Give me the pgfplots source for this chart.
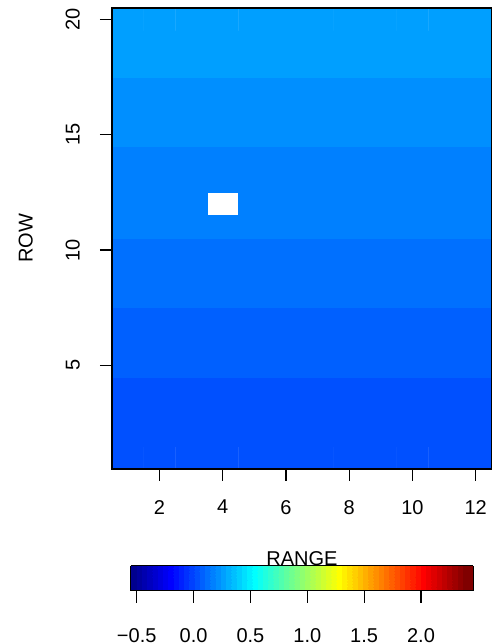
\documentclass[border=0pt]{standalone}
\usepackage{fontspec}
\setmainfont{Liberation Sans}
\usepackage{pgfplots}
\pgfplotsset{compat=1.18}
\pgfplotsset{colormap={tim}{
rgb255=(0,0,143) rgb255=(0,0,159) rgb255=(0,0,175) rgb255=(0,0,191) rgb255=(0,0,207) rgb255=(0,0,223) rgb255=(0,0,239) rgb255=(0,0,255)
rgb255=(0,16,255) rgb255=(0,32,255) rgb255=(0,48,255) rgb255=(0,64,255) rgb255=(0,80,255) rgb255=(0,96,255) rgb255=(0,112,255) rgb255=(0,128,255)
rgb255=(0,143,255) rgb255=(0,159,255) rgb255=(0,175,255) rgb255=(0,191,255) rgb255=(0,207,255) rgb255=(0,223,255) rgb255=(0,239,255) rgb255=(0,255,255)
rgb255=(16,255,239) rgb255=(32,255,223) rgb255=(48,255,207) rgb255=(64,255,191) rgb255=(80,255,175) rgb255=(96,255,159) rgb255=(112,255,143) rgb255=(128,255,128)
rgb255=(143,255,112) rgb255=(159,255,96) rgb255=(175,255,80) rgb255=(191,255,64) rgb255=(207,255,48) rgb255=(223,255,32) rgb255=(239,255,16) rgb255=(255,255,0)
rgb255=(255,239,0) rgb255=(255,223,0) rgb255=(255,207,0) rgb255=(255,191,0) rgb255=(255,175,0) rgb255=(255,159,0) rgb255=(255,143,0) rgb255=(255,128,0)
rgb255=(255,112,0) rgb255=(255,96,0) rgb255=(255,80,0) rgb255=(255,64,0) rgb255=(255,48,0) rgb255=(255,32,0) rgb255=(255,16,0) rgb255=(255,0,0)
rgb255=(239,0,0) rgb255=(223,0,0) rgb255=(207,0,0) rgb255=(191,0,0) rgb255=(175,0,0) rgb255=(159,0,0) rgb255=(143,0,0) rgb255=(128,0,0) rgb255=(128,0,0)
}}
\newcommand{\bigf}{\fontsize{20}{24}\selectfont}
\begin{document}
\begin{tikzpicture}
\useasboundingbox (0,0) rectangle (491pt,644pt);
\begin{axis}[
  at={(112pt,175pt)}, anchor=south west,
  scale only axis, width=379.5pt, height=461pt,
  xmin=0.5, xmax=12.5, ymin=0.5, ymax=20.5,
  colormap name=tim, colormap access=piecewise constant,
  point meta min=-0.553, point meta max=2.460,
  xtick={2,4,6,8,10,12}, ytick={5,10,15,20},
  tick align=outside, major tick length=12pt, tick pos=left,
  axis line style={line width=1.2pt},
  every tick/.style={black, line width=1.2pt},
  /pgf/number format/assume math mode=true,
  ticklabel style={font=\bigf},
  xticklabel style={anchor=north, inner sep=0pt, yshift=-19pt},
  yticklabel style={xshift=-20pt, rotate=90, anchor=south, inner sep=0pt},
  ylabel={ROW},
  ylabel style={at={(axis description cs:-0.208,0.5)}, anchor=south, inner sep=0pt, font=\bigf},
  unbounded coords=jump,
  axis on top,
  colorbar horizontal,
  colorbar style={
    at={(parent axis.south west)}, anchor=north west,
    xshift=18.7pt, yshift=-88pt,
    scale only axis, width=342.6pt, height=25pt,
    xtick={-0.5,0,0.5,1,1.5,2},
    xticklabels={−0.5,0.0,0.5,1.0,1.5,2.0},
    xtick pos=left, ytick=\empty,
    tick align=outside, major tick length=12pt,
    axis line style={line width=1.2pt},
    every tick/.style={black, line width=1.2pt},
    xticklabel style={font=\bigf, anchor=north, inner sep=0pt, yshift=-26pt},
    xlabel={RANGE},
    xlabel style={at={(axis description cs:0.5,1)}, anchor=base, inner sep=0pt, font=\bigf},
  },
]
\addplot[matrix plot*, shader=faceted, faceted color=mapped color, line width=0.4pt, mesh/cols=12, mesh/rows=20, point meta=explicit] coordinates {
(1,1)[0.036] (2,1)[0.036] (3,1)[0.036] (4,1)[0.036] (5,1)[0.036] (6,1)[0.036] (7,1)[0.036] (8,1)[0.036] (9,1)[0.036] (10,1)[0.036] (11,1)[0.036] (12,1)[0.036]
(1,2)[0.036] (2,2)[0.036] (3,2)[0.036] (4,2)[0.036] (5,2)[0.036] (6,2)[0.036] (7,2)[0.036] (8,2)[0.036] (9,2)[0.036] (10,2)[0.036] (11,2)[0.036] (12,2)[0.036]
(1,3)[0.036] (2,3)[0.036] (3,3)[0.036] (4,3)[0.036] (5,3)[0.036] (6,3)[0.036] (7,3)[0.036] (8,3)[0.036] (9,3)[0.036] (10,3)[0.036] (11,3)[0.036] (12,3)[0.036]
(1,4)[0.036] (2,4)[0.036] (3,4)[0.036] (4,4)[0.036] (5,4)[0.036] (6,4)[0.036] (7,4)[0.036] (8,4)[0.036] (9,4)[0.036] (10,4)[0.036] (11,4)[0.036] (12,4)[0.036]
(1,5)[0.083] (2,5)[0.083] (3,5)[0.083] (4,5)[0.083] (5,5)[0.083] (6,5)[0.083] (7,5)[0.083] (8,5)[0.083] (9,5)[0.083] (10,5)[0.083] (11,5)[0.083] (12,5)[0.083]
(1,6)[0.083] (2,6)[0.083] (3,6)[0.083] (4,6)[0.083] (5,6)[0.083] (6,6)[0.083] (7,6)[0.083] (8,6)[0.083] (9,6)[0.083] (10,6)[0.083] (11,6)[0.083] (12,6)[0.083]
(1,7)[0.083] (2,7)[0.083] (3,7)[0.083] (4,7)[0.083] (5,7)[0.083] (6,7)[0.083] (7,7)[0.083] (8,7)[0.083] (9,7)[0.083] (10,7)[0.083] (11,7)[0.083] (12,7)[0.083]
(1,8)[0.130] (2,8)[0.130] (3,8)[0.130] (4,8)[0.130] (5,8)[0.130] (6,8)[0.130] (7,8)[0.130] (8,8)[0.130] (9,8)[0.130] (10,8)[0.130] (11,8)[0.130] (12,8)[0.130]
(1,9)[0.130] (2,9)[0.130] (3,9)[0.130] (4,9)[0.130] (5,9)[0.130] (6,9)[0.130] (7,9)[0.130] (8,9)[0.130] (9,9)[0.130] (10,9)[0.130] (11,9)[0.130] (12,9)[0.130]
(1,10)[0.130] (2,10)[0.130] (3,10)[0.130] (4,10)[0.130] (5,10)[0.130] (6,10)[0.130] (7,10)[0.130] (8,10)[0.130] (9,10)[0.130] (10,10)[0.130] (11,10)[0.130] (12,10)[0.130]
(1,11)[0.177] (2,11)[0.177] (3,11)[0.177] (4,11)[0.177] (5,11)[0.177] (6,11)[0.177] (7,11)[0.177] (8,11)[0.177] (9,11)[0.177] (10,11)[0.177] (11,11)[0.177] (12,11)[0.177]
(1,12)[0.177] (2,12)[0.177] (3,12)[0.177] (4,12)[nan] (5,12)[0.177] (6,12)[0.177] (7,12)[0.177] (8,12)[0.177] (9,12)[0.177] (10,12)[0.177] (11,12)[0.177] (12,12)[0.177]
(1,13)[0.177] (2,13)[0.177] (3,13)[0.177] (4,13)[0.177] (5,13)[0.177] (6,13)[0.177] (7,13)[0.177] (8,13)[0.177] (9,13)[0.177] (10,13)[0.177] (11,13)[0.177] (12,13)[0.177]
(1,14)[0.177] (2,14)[0.177] (3,14)[0.177] (4,14)[0.177] (5,14)[0.177] (6,14)[0.177] (7,14)[0.177] (8,14)[0.177] (9,14)[0.177] (10,14)[0.177] (11,14)[0.177] (12,14)[0.177]
(1,15)[0.224] (2,15)[0.224] (3,15)[0.224] (4,15)[0.224] (5,15)[0.224] (6,15)[0.224] (7,15)[0.224] (8,15)[0.224] (9,15)[0.224] (10,15)[0.224] (11,15)[0.224] (12,15)[0.224]
(1,16)[0.224] (2,16)[0.224] (3,16)[0.224] (4,16)[0.224] (5,16)[0.224] (6,16)[0.224] (7,16)[0.224] (8,16)[0.224] (9,16)[0.224] (10,16)[0.224] (11,16)[0.224] (12,16)[0.224]
(1,17)[0.224] (2,17)[0.224] (3,17)[0.224] (4,17)[0.224] (5,17)[0.224] (6,17)[0.224] (7,17)[0.224] (8,17)[0.224] (9,17)[0.224] (10,17)[0.224] (11,17)[0.224] (12,17)[0.224]
(1,18)[0.271] (2,18)[0.271] (3,18)[0.271] (4,18)[0.271] (5,18)[0.271] (6,18)[0.271] (7,18)[0.271] (8,18)[0.271] (9,18)[0.271] (10,18)[0.271] (11,18)[0.271] (12,18)[0.271]
(1,19)[0.271] (2,19)[0.271] (3,19)[0.271] (4,19)[0.271] (5,19)[0.271] (6,19)[0.271] (7,19)[0.271] (8,19)[0.271] (9,19)[0.271] (10,19)[0.271] (11,19)[0.271] (12,19)[0.271]
(1,20)[0.271] (2,20)[0.271] (3,20)[0.271] (4,20)[0.271] (5,20)[0.271] (6,20)[0.271] (7,20)[0.271] (8,20)[0.271] (9,20)[0.271] (10,20)[0.271] (11,20)[0.271] (12,20)[0.271]
};
\end{axis}
\end{tikzpicture}
\end{document}
